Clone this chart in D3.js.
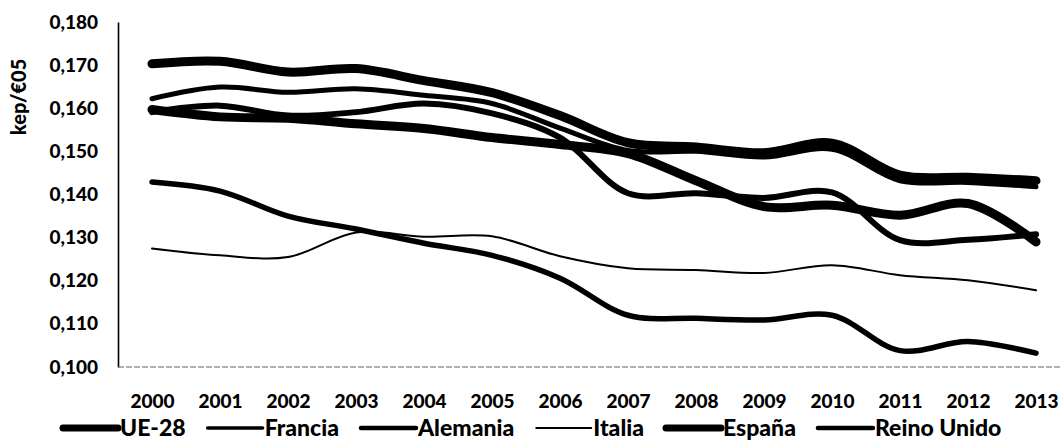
<!DOCTYPE html>
<html>
<head>
<meta charset="utf-8">
<script src="https://cdn.jsdelivr.net/npm/d3@7"></script>
<style>
  html, body { margin: 0; padding: 0; background: #fff; }
  #chart { width: 1061px; height: 440px; }
  text { font-family: Lato, "Open Sans", sans-serif; font-weight: 900; fill: #000; }
</style>
</head>
<body>
<div id="chart"></div>
<script>
// --- 1. Data ---
const years = [2000, 2001, 2002, 2003, 2004, 2005, 2006, 2007, 2008, 2009, 2010, 2011, 2012, 2013];
const seriesNames = ["UE-28", "Francia", "Alemania", "Italia", "España", "Reino Unido"];

const ue28 = [0.1703, 0.1709, 0.1684, 0.1692, 0.1664, 0.1636, 0.1583, 0.1520, 0.1510, 0.1497, 0.1519, 0.1445, 0.1440, 0.1432];
const francia = [0.1622, 0.1649, 0.1637, 0.1645, 0.1630, 0.1611, 0.1554, 0.1502, 0.1500, 0.1487, 0.1505, 0.1432, 0.1428, 0.1418];
const alemania = [0.1591, 0.1606, 0.1583, 0.1591, 0.1611, 0.1588, 0.1532, 0.1403, 0.1403, 0.1392, 0.1405, 0.1294, 0.1295, 0.1308];
const italia = [0.1275, 0.1259, 0.1255, 0.1312, 0.1302, 0.1303, 0.1257, 0.1229, 0.1225, 0.1218, 0.1236, 0.1213, 0.1201, 0.1178];
const espana = [0.1597, 0.1580, 0.1577, 0.1564, 0.1553, 0.1532, 0.1516, 0.1495, 0.1432, 0.1372, 0.1375, 0.1352, 0.1379, 0.1290];
const reinoUnido = [0.1429, 0.1408, 0.1350, 0.1320, 0.1287, 0.1259, 0.1206, 0.1120, 0.1113, 0.1109, 0.1120, 0.1038, 0.1059, 0.1032];

const yTicks = [0.100, 0.110, 0.120, 0.130, 0.140, 0.150, 0.160, 0.170, 0.180];
const yTitle = "kep/€05";

// --- 2. Styling per series (stroke widths mimic the scan) ---
const seriesValues = [ue28, francia, alemania, italia, espana, reinoUnido];
const strokeWidths = [9, 5, 6, 2, 9, 5.5];
const legendWidths = [7, 3.5, 4.5, 2, 7, 4.5];

// --- 3. Layout ---
const W = 1061, H = 440;
const plot = { left: 118, right: 1061, top: 22, bottom: 367 };

const svg = d3.select("#chart")
  .append("svg")
  .attr("width", W)
  .attr("height", H)
  .attr("viewBox", `0 0 ${W} ${H}`);

svg.append("rect").attr("width", W).attr("height", H).attr("fill", "#fff");

// Scales: points for years, linear for intensity
const x = d3.scalePoint().domain(years).range([152, 1036]);
const y = d3.scaleLinear().domain([0.100, 0.180]).range([plot.bottom, plot.top]);

// Spanish number format: comma as decimal separator
const esLocale = d3.formatLocale({ decimal: ",", thousands: ".", grouping: [3], currency: ["", " €"] });
const fmt = esLocale.format(".3f");

// --- 4. Axes ---
const yAxis = svg.append("g")
  .attr("class", "y axis")
  .attr("transform", `translate(${plot.left}, 0)`)
  .call(d3.axisLeft(y).tickValues(yTicks).tickFormat(fmt).tickSize(0).tickPadding(20));

yAxis.select(".domain").attr("stroke", "#000").attr("stroke-width", 1.6);
yAxis.selectAll(".tick text")
  .attr("font-size", 19)
  .attr("font-family", "Lato, sans-serif")
  .attr("font-weight", 900)
  .attr("fill", "#000");

const xAxis = svg.append("g")
  .attr("class", "x axis")
  .attr("transform", `translate(0, ${plot.bottom})`)
  .call(d3.axisBottom(x).tickSize(0).tickPadding(28));

xAxis.select(".domain").remove();
xAxis.selectAll(".tick text")
  .attr("font-size", 19)
  .attr("font-family", "Lato, sans-serif")
  .attr("font-weight", 900)
  .attr("fill", "#000");

// Faint baseline as in the scan
svg.append("line")
  .attr("x1", plot.left)
  .attr("x2", plot.right)
  .attr("y1", plot.bottom)
  .attr("y2", plot.bottom)
  .attr("stroke", "#666")
  .attr("stroke-width", 1)
  .attr("stroke-dasharray", "6 2");

// Y axis title (rotated)
svg.append("text")
  .attr("transform", `translate(26, 97) rotate(-90)`)
  .attr("text-anchor", "middle")
  .attr("font-size", 20)
  .text(yTitle);

// --- 5. Lines (smoothed like the original spreadsheet chart) ---
const lineGen = d3.line()
  .x((d, i) => x(years[i]))
  .y((d) => y(d))
  .curve(d3.curveCatmullRom.alpha(0.5));

const linesGroup = svg.append("g").attr("class", "lines");

seriesValues.forEach((vals, i) => {
  linesGroup.append("path")
    .datum(vals)
    .attr("d", lineGen)
    .attr("fill", "none")
    .attr("stroke", "#000")
    .attr("stroke-width", strokeWidths[i])
    .attr("stroke-linecap", "round")
    .attr("stroke-linejoin", "round");
});

// --- 6. Legend (one row along the bottom) ---
const legend = svg.append("g").attr("class", "legend");
const legendY = 428;
const swatchLen = 55;
let cursor = 63;

seriesNames.forEach((name, i) => {
  legend.append("line")
    .attr("x1", cursor)
    .attr("x2", cursor + swatchLen)
    .attr("y1", legendY)
    .attr("y2", legendY)
    .attr("stroke", "#000")
    .attr("stroke-width", legendWidths[i])
    .attr("stroke-linecap", "round");

  const label = legend.append("text")
    .attr("x", cursor + swatchLen + 2)
    .attr("y", legendY + 8)
    .attr("font-size", 23)
    .text(name);

  cursor += swatchLen + 2 + label.node().getComputedTextLength() + 22;
});
</script>
</body>
</html>
